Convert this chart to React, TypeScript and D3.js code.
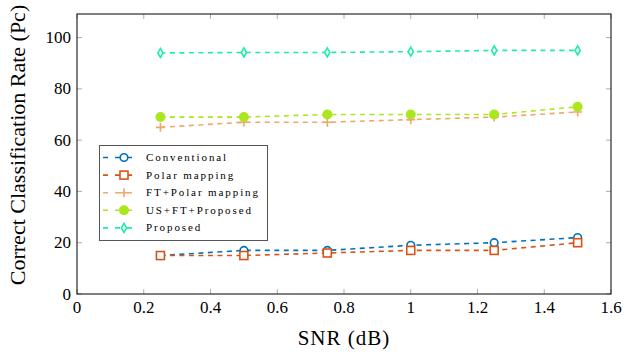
import * as d3 from 'd3';
import { useEffect, useRef } from 'react';

// SNR values (dB)
const snr = [0.25, 0.5, 0.75, 1.0, 1.25, 1.5];

const conventional = [15, 17, 17, 19, 20, 22];
const polarMapping = [15, 15, 16, 17, 17, 20];
const ftPolar = [65, 67, 67, 68, 69, 71];
const usFtProposed = [69, 69, 70, 70, 70, 73];
const proposed = [94, 94.2, 94.2, 94.5, 95, 95];

const seriesNames = ['Conventional', 'Polar mapping', 'FT+Polar mapping', 'US+FT+Proposed', 'Proposed'];
const seriesColors = ['#0072BD', '#D95319', '#F2A66B', '#ABE61F', '#1FEBAD'];
const seriesMarkers = ['circle', 'square', 'plus', 'dot', 'diamond'];

const xTicks = [0, 0.2, 0.4, 0.6, 0.8, 1, 1.2, 1.4, 1.6];
const yTicks = [0, 20, 40, 60, 80, 100];

const FONT = 'Liberation Serif';

function drawMarker(g: any, kind: string, x: number, y: number, color: string) {
    if (kind === 'circle') {
        g.append('circle').attr('cx', x).attr('cy', y).attr('r', 3.8)
            .attr('fill', 'white').attr('stroke', color).attr('stroke-width', 1.6);
    } else if (kind === 'square') {
        g.append('rect').attr('x', x - 4).attr('y', y - 4).attr('width', 8).attr('height', 8)
            .attr('fill', 'white').attr('stroke', color).attr('stroke-width', 1.6);
    } else if (kind === 'plus') {
        g.append('path').attr('d', `M${x - 4.5},${y}H${x + 4.5}M${x},${y - 4.5}V${y + 4.5}`)
            .attr('stroke', color).attr('stroke-width', 1.6).attr('fill', 'none');
    } else if (kind === 'dot') {
        g.append('circle').attr('cx', x).attr('cy', y).attr('r', 5).attr('fill', color);
    } else {
        g.append('path').attr('d', `M${x},${y - 4.5}L${x + 2.6},${y}L${x},${y + 4.5}L${x - 2.6},${y}Z`)
            .attr('fill', 'white').attr('stroke', color).attr('stroke-width', 1.6);
    }
}

const App = () => {
    const svgRef = useRef<SVGSVGElement>(null);

    useEffect(() => {
        const svg = d3.select(svgRef.current);
        svg.selectAll('*').remove();

        const margin = { left: 77, right: 611, top: 14, bottom: 294 };

        const x = d3.scaleLinear().domain([0, 1.6]).range([margin.left, margin.right]);
        const y = d3.scaleLinear().domain([0, 109.2]).range([margin.bottom, margin.top]);

        const g = svg.append('g');

        // ticks (inward, mirrored)
        const tickColor = '#9a9a9a';
        xTicks.forEach((t) => {
            g.append('line').attr('x1', x(t)).attr('x2', x(t)).attr('y1', margin.bottom).attr('y2', margin.bottom - 5)
                .attr('stroke', tickColor).attr('stroke-width', 0.8);
            g.append('line').attr('x1', x(t)).attr('x2', x(t)).attr('y1', margin.top).attr('y2', margin.top + 5)
                .attr('stroke', tickColor).attr('stroke-width', 0.8);
            g.append('text').attr('x', x(t)).attr('y', margin.bottom + 19).attr('text-anchor', 'middle')
                .attr('font-family', FONT).attr('font-size', 17).text(String(t));
        });
        yTicks.forEach((t) => {
            g.append('line').attr('x1', margin.left).attr('x2', margin.left + 5).attr('y1', y(t)).attr('y2', y(t))
                .attr('stroke', tickColor).attr('stroke-width', 0.8);
            g.append('line').attr('x1', margin.right).attr('x2', margin.right - 5).attr('y1', y(t)).attr('y2', y(t))
                .attr('stroke', tickColor).attr('stroke-width', 0.8);
            g.append('text').attr('x', margin.left - 6).attr('y', y(t) + 5.5).attr('text-anchor', 'end')
                .attr('font-family', FONT).attr('font-size', 17).text(String(t));
        });

        // frame
        g.append('rect').attr('x', margin.left).attr('y', margin.top)
            .attr('width', margin.right - margin.left).attr('height', margin.bottom - margin.top)
            .attr('fill', 'none').attr('stroke', 'black').attr('stroke-width', 1);

        // series
        const allSeries = [conventional, polarMapping, ftPolar, usFtProposed, proposed];
        const line = d3.line<number>().x((_, i) => x(snr[i])).y((d) => y(d));
        allSeries.forEach((vals, si) => {
            const color = seriesColors[si];
            g.append('path').attr('d', line(vals) || '').attr('fill', 'none')
                .attr('stroke', color).attr('stroke-width', 1.6).attr('stroke-dasharray', '5,4.5');
            vals.forEach((v, i) => drawMarker(g, seriesMarkers[si], x(snr[i]), y(v), color));
        });

        // legend
        const lg = g.append('g');
        lg.append('rect').attr('x', 99.5).attr('y', 145.5).attr('width', 168).attr('height', 95)
            .attr('fill', 'white').attr('stroke', '#555').attr('stroke-width', 1);
        seriesNames.forEach((name, i) => {
            const ry = 157.5 + i * 17.6;
            const color = seriesColors[i];
            lg.append('line').attr('x1', 103).attr('x2', 138).attr('y1', ry).attr('y2', ry)
                .attr('stroke', color).attr('stroke-width', 1.6).attr('stroke-dasharray', '5,7');
            drawMarker(lg, seriesMarkers[i], 124, ry, color);
            lg.append('text').attr('x', 146).attr('y', ry + 3.5)
                .attr('font-family', FONT).attr('font-size', 11).attr('letter-spacing', 1.9).text(name);
        });

        // axis labels
        g.append('text').attr('x', (margin.left + margin.right) / 2 + 0).attr('y', 345).attr('text-anchor', 'middle')
            .attr('font-family', FONT).attr('font-size', 21).attr('letter-spacing', 1).text('SNR (dB)');
        g.append('text').attr('transform', `translate(25, 145) rotate(-90)`)
            .attr('text-anchor', 'middle').attr('font-family', FONT).attr('font-size', 22)
            .text('Correct Classification Rate (Pc)');
    }, []);

    return (
        <svg ref={svgRef} width={625} height={359}
            style={{ position: 'absolute', left: 0, top: 0, background: 'white' }}></svg>
    );
};

export default App;
